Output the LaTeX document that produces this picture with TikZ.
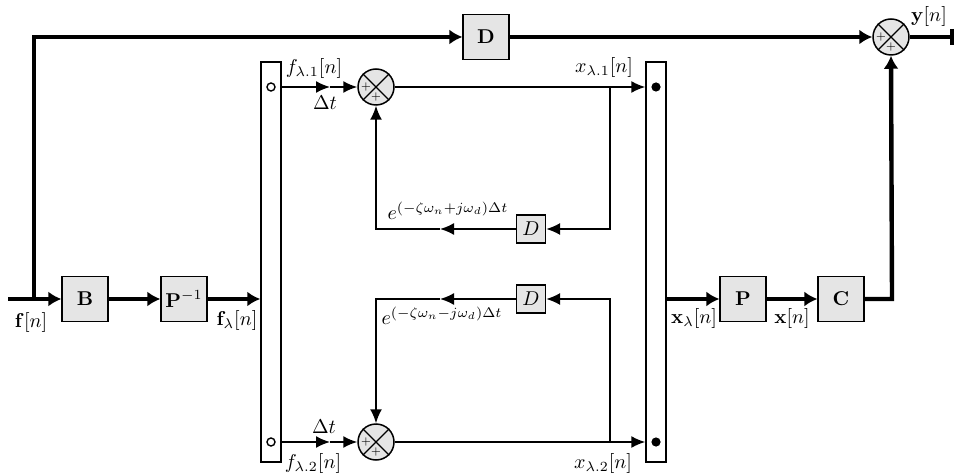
\documentclass[tikz,border=0pt]{standalone}
\usetikzlibrary{arrows.meta}
\begin{document}
\begin{tikzpicture}[x=0.5pt,y=-0.5pt,
  thk/.style={line width=2.2pt},
  thn/.style={line width=0.85pt},
  thkarr/.style={thk,-{Latex[length=6.5pt,width=7.5pt]}},
  thnarr/.style={thn,-{Latex[length=7pt,width=6pt]}},
  blk/.style={draw,line width=0.6pt,fill=gray!20,minimum width=23pt,minimum height=22.5pt,inner sep=0pt,font=\bfseries},
  dbox/.style={draw,line width=0.6pt,fill=gray!20,minimum width=14.5pt,minimum height=14pt,inner sep=0pt},
  sumj/.style={draw,line width=0.75pt,fill=gray!20,circle,minimum size=18pt,inner sep=0pt},
  barbox/.style={draw,line width=0.7pt,fill=white,minimum width=10pt,minimum height=200pt,inner sep=0pt},
  lbl/.style={inner sep=0pt},
  plus/.style={inner sep=0pt,font=\scriptsize}]
\useasboundingbox (0,0) rectangle (956,475);
% nodes
\node[blk] (B) at (85,299) {$\mathbf{B}$};
\node[blk] (Pinv) at (184,299) {$\mathbf{P}^{-1}$};
\node[blk] (D3) at (486,37) {$\mathbf{D}$};
\node[blk] (P) at (743,299) {$\mathbf{P}$};
\node[blk] (C) at (841,299) {$\mathbf{C}$};
\node[barbox] (L) at (271,262) {};
\node[barbox] (R) at (656,262) {};
\node[dbox] (D1) at (531,229) {$D$};
\node[dbox] (D2) at (531,299) {$D$};
\foreach \n/\x/\y in {S1/376/87,S2/376/442,S3/891/37}{
  \node[sumj] (\n) at (\x,\y) {};
  \draw[line width=0.6pt] (\n.north west) -- (\n.south east) (\n.north east) -- (\n.south west);
  \node[plus] at (\x-10,\y) {$\scriptstyle+$};
  \node[plus] at (\x,\y+10) {$\scriptstyle+$};
}
% bar marks
\draw[line width=0.7pt] (271,87) circle[radius=2pt];
\draw[line width=0.7pt] (271,442) circle[radius=2pt];
\fill (656,87) circle[radius=2.3pt];
\fill (656,442) circle[radius=2.3pt];
% coordinates
\coordinate (in) at (8,299);
\coordinate (br0) at (34,299);
\coordinate (tl) at (34,37);
\coordinate (out) at (954,37);
\coordinate (cr) at (892,299);
\coordinate (a1) at (330,87);
\coordinate (a2) at (330,442);
\coordinate (br1) at (610,87);
\coordinate (br2) at (610,442);
\coordinate (m1) at (440,229);
\coordinate (m2) at (440,299);
\coordinate (c1) at (376,229);
\coordinate (c2) at (376,299);
% thick paths
\draw[thkarr] (in) -- (B.west);
\draw[thkarr] (B.east) -- (Pinv.west);
\draw[thkarr] (Pinv.east) -- (Pinv.east -| L.west);
\draw[thkarr] (br0) -- (tl) -- (D3.west);
\draw[thkarr] (D3.east) -- (S3.west);
\draw[thk,-{Bar[width=8pt]}] (S3.east) -- (out);
\draw[thkarr] (R.east |- P.west) -- (P.west);
\draw[thkarr] (P.east) -- (C.west);
\draw[thkarr] (C.east) -- (cr) -- (S3.south);
% top channel
\draw[thnarr] (L.east |- a1) -- (a1);
\draw[thnarr] (a1) -- (S1.west);
\draw[thnarr] (S1.east) -- (S1.east -| R.west);
\draw[thnarr] (br1) -- (br1 |- D1.east) -- (D1.east);
\draw[thnarr] (D1.west) -- (m1);
\draw[thnarr] (m1) -- (c1) -- (S1.south);
% bottom channel
\draw[thnarr] (L.east |- a2) -- (a2);
\draw[thnarr] (a2) -- (S2.west);
\draw[thnarr] (S2.east) -- (S2.east -| R.west);
\draw[thnarr] (br2) -- (br2 |- D2.east) -- (D2.east);
\draw[thnarr] (D2.west) -- (m2);
\draw[thnarr] (m2) -- (c2) -- (S2.north);
% labels
\node[lbl] (l1) at (31,322) {$\mathbf{f}[n]$};
\node[lbl] (l2) at (237,320) {$\mathbf{f}_\lambda[n]$};
\node[lbl] (l3) at (314,69) {$f_{\lambda.1}[n]$};
\node[lbl] (l4) at (325,103) {$\Delta t$};
\node[lbl] (l5) at (313,463) {$f_{\lambda.2}[n]$};
\node[lbl] (l6) at (324,427) {$\Delta t$};
\node[lbl] (l7) at (604,68) {$x_{\lambda.1}[n]$};
\node[lbl] (l8) at (603,463) {$x_{\lambda.2}[n]$};
\node[lbl] (l9) at (448,211) {$e^{(-\zeta\omega_n+j\omega_d)\Delta t}$};
\node[lbl] (l10) at (442,316) {$e^{(-\zeta\omega_n-j\omega_d)\Delta t}$};
\node[lbl] (l11) at (694,318) {$\mathbf{x}_\lambda[n]$};
\node[lbl] (l12) at (792,318) {$\mathbf{x}[n]$};
\node[lbl] (l13) at (929,17) {$\mathbf{y}[n]$};
\end{tikzpicture}
\end{document}
